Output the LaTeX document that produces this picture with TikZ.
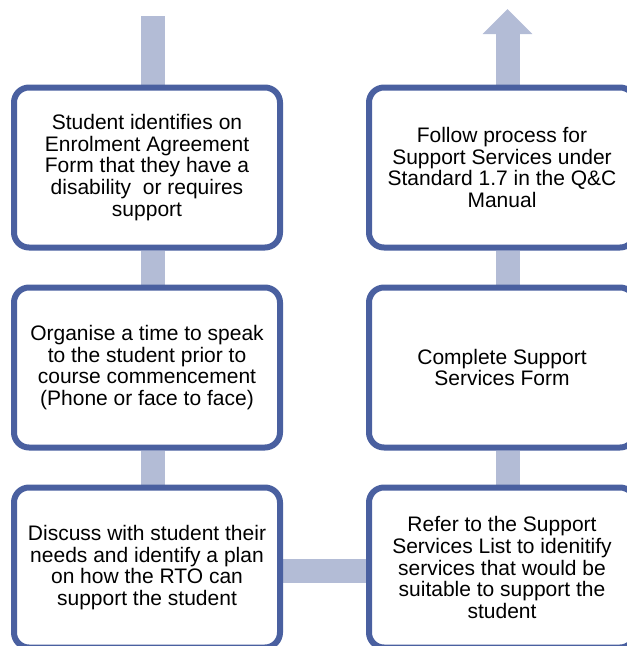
\documentclass[tikz,border=0pt]{standalone}
\usepackage{fontspec}
\setmainfont{Liberation Sans}
\usetikzlibrary{arrows.meta,backgrounds}

\definecolor{boxblue}{RGB}{74,96,160}
\definecolor{barblue}{RGB}{179,188,214}

\begin{document}
\begin{tikzpicture}[x=1pt,y=-1pt,
      stepbox/.style={draw=boxblue, line width=6pt, fill=white, rounded corners=15pt,
                      minimum width=266pt, minimum height=160pt, align=center,
                      font=\fontsize{21}{21.7}\selectfont},
      bar/.style={barblue, line width=24pt}]

      \useasboundingbox (0,0) rectangle (627,646);

      % left column, going down
      \node[stepbox] (enrol) at (147,167.5) {Student identifies on\\Enrolment Agreement\\Form that they have a\\disability\ \ or requires\\support};
      \node[stepbox] (speak) at (147,367.5) {Organise a time to speak\\to the student prior to\\course commencement\\(Phone or face to face)};
      \node[stepbox] (plan)  at (147,567.5) {Discuss with student their\\needs and identify a plan\\on how the RTO can\\support the student};

      % right column, going up
      \node[stepbox] (list)    at (502,567.5) {Refer to the Support\\Services List to idenitify\\services that would be\\suitable to support the\\student};
      \node[stepbox] (form)    at (502,367.5) {Complete Support\\Services Form};
      \node[stepbox] (process) at (502,167.5) {Follow process for\\Support Services under\\Standard 1.7 in the Q\&C\\Manual};

      \coordinate (start)  at (152.5,16);
      \coordinate (finish) at (507.5,9);

      \begin{scope}[on background layer]
      \draw[bar] (start) -- ([xshift=5.5pt]enrol.north);
      \draw[bar] ([xshift=5.5pt]enrol.south) -- ([xshift=5.5pt]speak.north);
      \draw[bar] ([xshift=5.5pt]speak.south) -- ([xshift=5.5pt]plan.north);
      \draw[bar] ([yshift=-3.5pt]plan.east) -- ([yshift=-3.5pt]list.west);
      \draw[bar] ([xshift=5.5pt]list.north) -- ([xshift=5.5pt]form.south);
      \draw[bar] ([xshift=5.5pt]form.north) -- ([xshift=5.5pt]process.south);
      \draw[bar,-{Triangle[width=48pt,length=25pt]}] ([xshift=5.5pt]process.north) -- (finish);
      \end{scope}
\end{tikzpicture}
\end{document}
